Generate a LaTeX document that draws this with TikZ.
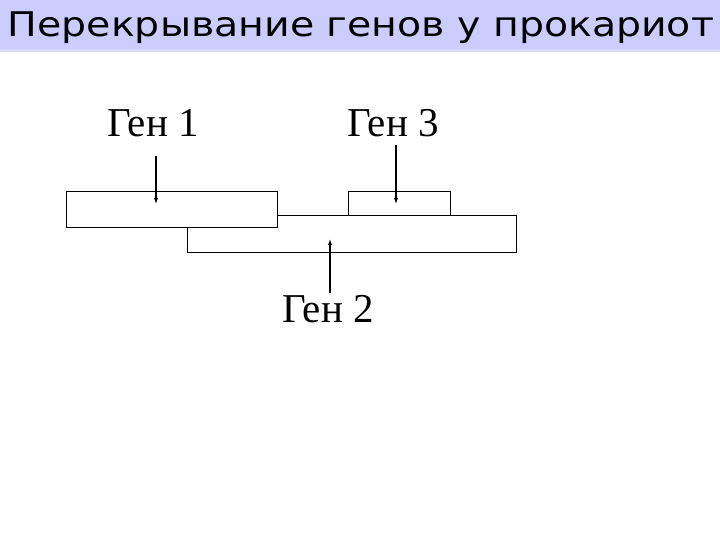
\documentclass[tikz,border=0pt]{standalone}
\usepackage{fontspec}
\setmainfont{Liberation Serif}
\newfontfamily\titlefont{DejaVu Sans}
\usetikzlibrary{arrows.meta}
\definecolor{titlebg}{RGB}{204,204,255}
\definecolor{titleedge}{RGB}{218,218,250}
\tikzset{
  genebox/.style={draw=black, fill=white, line width=1pt},
  genelabel/.style={font=\fontsize{41}{44}\selectfont, inner sep=0pt, anchor=base},
  pointer/.style={line width=1.2pt, -{Latex[length=6pt,width=4.5pt]}}
}
\begin{document}
\begin{tikzpicture}[x=1pt,y=-1pt]
\useasboundingbox (0,0) rectangle (720,540);
\fill[white] (0,0) rectangle (720,540);
\fill[titlebg] (0,0) rectangle (720,49);
\fill[titleedge] (0,49) rectangle (720,52);
\node[anchor=base, inner sep=0pt, font=\titlefont\fontsize{34}{38}\selectfont] (title) at (361,37) {\scalebox{1.16}[1]{Перекрывание генов у прокариот}};
% gene boxes
\node[genebox, minimum width=329pt, minimum height=36pt, inner sep=0pt] (g2) at (351.5,234) {};
\node[genebox, minimum width=102pt, minimum height=24pt, inner sep=0pt] (g3) at (399,204) {};
\node[genebox, minimum width=211pt, minimum height=36pt, inner sep=0pt] (g1) at (171.5,210) {};
% labels
\node[genelabel] (l1) at (153,137) {Ген 1};
\node[genelabel] (l3) at (393,137) {Ген 3};
\node[genelabel] (l2) at (328,322) {Ген 2};
% pointer coordinates
\coordinate (a1s) at (156,156);
\coordinate (a1e) at (156,204);
\coordinate (a3s) at (396,145);
\coordinate (a3e) at (396,204);
\coordinate (a2s) at (330,293);
\coordinate (a2e) at (330,239);
\draw[pointer] (a1s) -- (a1e);
\draw[pointer] (a3s) -- (a3e);
\draw[pointer] (a2s) -- (a2e);
\end{tikzpicture}
\end{document}
